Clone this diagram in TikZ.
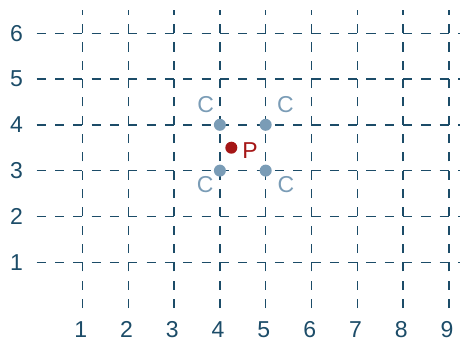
\documentclass[tikz,border=0pt]{standalone}
\usepackage{fontspec}
\setmainfont{Liberation Sans}
\definecolor{gridblue}{RGB}{28,76,104}
\definecolor{cblue}{RGB}{122,156,182}
\definecolor{pred}{RGB}{165,22,22}
\begin{document}
\begin{tikzpicture}[x=45.8pt,y=45.8pt,
  gridline/.style={draw=gridblue,line width=1.4pt,dash pattern=on 9.16pt off 9.16pt},
  axlabel/.style={text=gridblue,font=\fontsize{23}{27}\selectfont,inner sep=0pt},
  cpt/.style={circle,fill=cblue,minimum size=12pt,inner sep=0pt},
  ppt/.style={circle,fill=pred,minimum size=12pt,inner sep=0pt},
  clabel/.style={text=cblue,font=\fontsize{23}{27}\selectfont,inner sep=0pt},
  plabel/.style={text=pred,font=\fontsize{23}{27}\selectfont,inner sep=0pt}]
\useasboundingbox (-0.801,-0.764) rectangle (9.352,6.725);
% horizontal grid lines
\foreach \y in {1,...,6} {
  \coordinate (hl\y) at (0,\y);
  \coordinate (hr\y) at (9.25,\y);
  \draw[gridline] (hl\y) -- (hr\y);
}
% vertical grid lines
\foreach \x in {1,...,9} {
  \coordinate (vb\x) at (\x,0);
  \coordinate (vt\x) at (\x,6.5);
  \draw[gridline] (vb\x) -- (vt\x);
}
% axis labels
\foreach \x in {1,...,9} \node[axlabel] (xl\x) at (\x-0.04,-0.47) {\x};
\foreach \y in {1,...,6} \node[axlabel] (yl\y) at (-0.44,\y) {\y};
% C points
\node[cpt] (c1) at (4,4) {};
\node[cpt] (c2) at (5,4) {};
\node[cpt] (c3) at (4,3) {};
\node[cpt] (c4) at (5,3) {};
\node[clabel] (lc1) at (3.69,4.44) {C};
\node[clabel] (lc2) at (5.43,4.44) {C};
\node[clabel] (lc3) at (3.68,2.69) {C};
\node[clabel] (lc4) at (5.44,2.69) {C};
% P point
\node[ppt] (p) at (4.25,3.5) {};
\node[plabel] (lp) at (4.66,3.43) {P};
\end{tikzpicture}
\end{document}
